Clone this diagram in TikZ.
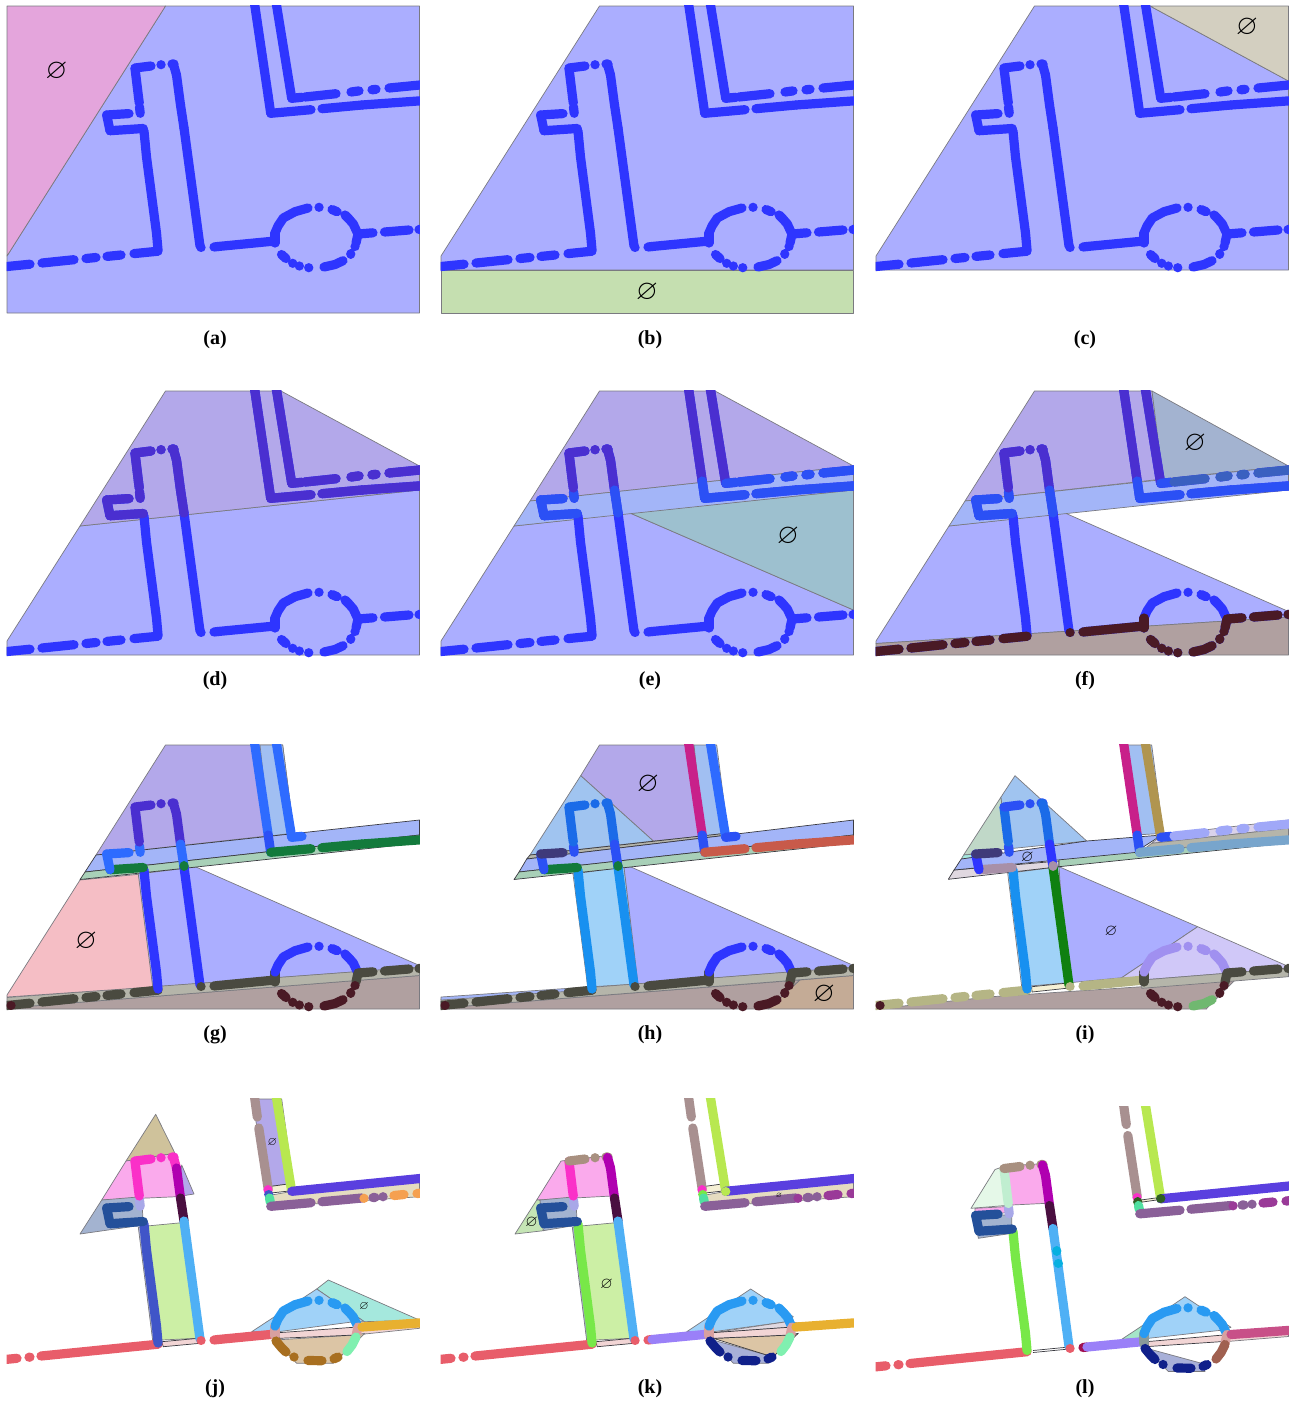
\documentclass[tikz,border=0pt]{standalone}
\usepackage{amsmath,amssymb}
\usepackage{fontspec}
\setmainfont{Liberation Serif}

% region fills
\definecolor{regblue}{HTML}{ABAEFF}
\definecolor{regpink}{HTML}{E4A5DC}
\definecolor{reggreen}{HTML}{C5DFB0}
\definecolor{regbeige}{HTML}{D3CFC0}
\definecolor{regpurple}{HTML}{B3A8EA}
\definecolor{regstrip}{HTML}{A3B5F8}
\definecolor{regteal}{HTML}{9DC0CF}
\definecolor{regslate}{HTML}{A3B3D0}
\definecolor{regbrown}{HTML}{B0A0A0}
\definecolor{regsalmon}{HTML}{F5BEC5}
\definecolor{regmoss}{HTML}{A8D0B8}
\definecolor{regstone}{HTML}{B5B5AA}
\definecolor{regsky}{HTML}{A0C4F0}
\definecolor{regice}{HTML}{A0D2F8}
\definecolor{regtan}{HTML}{C4AB96}
\definecolor{reglilac}{HTML}{D0C8F8}
\definecolor{regsage}{HTML}{C0D8C8}
\definecolor{regpale}{HTML}{E0D8E0}
\definecolor{regcream}{HTML}{E5DCC0}
\definecolor{regsand}{HTML}{CFC29B}
\definecolor{regorchid}{HTML}{FAAAEC}
\definecolor{regapple}{HTML}{CCEFA5}
\definecolor{regmint}{HTML}{A5E8DD}
\definecolor{regblush}{HTML}{F2D5D5}
\definecolor{regwheat}{HTML}{DCC5A5}
\definecolor{regdusk}{HTML}{A8B0D8}
\definecolor{regfern}{HTML}{C5E5B5}
\definecolor{regfoam}{HTML}{E5F8E8}
\definecolor{regjade}{HTML}{A5E5C8}
\definecolor{regivory}{HTML}{F5F0D5}
\definecolor{edgegray}{HTML}{7A7A80}
\definecolor{edgedark}{HTML}{3A3A40}
% dotted line colours
\definecolor{dotblue}{HTML}{2E35FF}
\definecolor{dotpurple}{HTML}{4A2FD0}
\definecolor{dotstrip}{HTML}{2B50F5}
\definecolor{dotsky}{HTML}{2E6BFF}
\definecolor{dotdull}{HTML}{3A60C0}
\definecolor{dotmaroon}{HTML}{4A1A25}
\definecolor{dotolive}{HTML}{4A4A40}
\definecolor{dotgreen}{HTML}{137A3C}
\definecolor{dotmagenta}{HTML}{C8208A}
\definecolor{dotbrick}{HTML}{C85A4A}
\definecolor{dotindigo}{HTML}{3F3A7A}
\definecolor{dotazure}{HTML}{1A6BE8}
\definecolor{dotcyan}{HTML}{1890F0}
\definecolor{dotkhaki}{HTML}{B5B585}
\definecolor{dotlilac}{HTML}{A090F0}
\definecolor{dotpale}{HTML}{A0A8F8}
\definecolor{dotsteel}{HTML}{78A5CC}
\definecolor{dotmauve}{HTML}{A890A8}
\definecolor{dotgold}{HTML}{B09550}
\definecolor{dotforest}{HTML}{0F8010}
\definecolor{dotleaf}{HTML}{70B870}
\definecolor{dotnavy}{HTML}{24509A}
\definecolor{dotred}{HTML}{E85D6A}
\definecolor{dotrose}{HTML}{D8A0A0}
\definecolor{dotmint}{HTML}{80F0B0}
\definecolor{dotamber}{HTML}{E8B030}
\definecolor{dotochre}{HTML}{A86F20}
\definecolor{dotroyal}{HTML}{4055C8}
\definecolor{dotbaby}{HTML}{4FB0F5}
\definecolor{dotplum}{HTML}{4A0F40}
\definecolor{dotfuchsia}{HTML}{FA30C8}
\definecolor{dotviolet}{HTML}{B000B0}
\definecolor{dotperi}{HTML}{A8A8E8}
\definecolor{dottaupe}{HTML}{A89090}
\definecolor{dotlime}{HTML}{B8E850}
\definecolor{dotsea}{HTML}{50E0A0}
\definecolor{dotgrape}{HTML}{8A6098}
\definecolor{dotorange}{HTML}{F5A050}
\definecolor{dotink}{HTML}{5A3FDF}
\definecolor{dotlawn}{HTML}{78E848}
\definecolor{dotiris}{HTML}{9A80F8}
\definecolor{dotdeep}{HTML}{10208A}
\definecolor{dotwine}{HTML}{9A3A98}
\definecolor{dotcrimson}{HTML}{A01050}
\definecolor{dotpine}{HTML}{2F5F20}
\definecolor{dotbrown}{HTML}{A06050}
\definecolor{dotberry}{HTML}{C85088}
\definecolor{dotaqua}{HTML}{08B0E0}
\definecolor{dotslate}{HTML}{8A9A9A}
\definecolor{dotmist}{HTML}{C0EED0}
\definecolor{dotrust}{HTML}{A89080}
\colorlet{dotring}{dotcyan!70!dotbaby}

% the line pieces, in the coordinates of panel (a)
\newcommand{\segZ}{(11,266.2)--(11.1,266.2)}
\newcommand{\segA}{(0,267.2)--(30,264.2) (42,263)--(74,259.7) (86,258.5)--(96,257.5) (107,256.4)--(121,255) (134,253.6)--(158,251.2)}
\newcommand{\segAf}{(0,267)--(17,265.3) (29,264.2)--(30,264.1) (41,263)--(158,251.2)}
\newcommand{\segB}{(158,250)--(156.5,233)--(146.5,157)--(144,131)}
\newcommand{\segC}{(143.3,128.5)--(110,130.7)}
\newcommand{\segD}{(110,130.7)--(106.7,115)}
\newcommand{\segE}{(106.7,115)--(129,113.6)}
\newcommand{\segF}{(139.5,107)--(140.2,113.3)}
\newcommand{\segGa}{(135,68.3)--(138.5,97)}
\newcommand{\segGb}{(138.5,97)--(139.3,103)}
\newcommand{\segH}{(135,68)--(151,66) (161,64.7)--(161.1,64.7) (172,64)--(174,64)}
\newcommand{\segIa}{(173.5,64.5)--(176.5,75)}
\newcommand{\segIb}{(176.5,75)--(180.5,105)}
\newcommand{\segIc}{(180.5,105)--(184,128)}
\newcommand{\segId}{(184,128)--(200,246)}
\newcommand{\segJz}{(201,247.8)--(201.1,247.8)}
\newcommand{\segJa}{(214,247)--(218,246.5)}
\newcommand{\segJb}{(218,246.5)--(272,241.3)}
\newcommand{\segKa}{(275,243)--(275,233)}
\newcommand{\segK}{(275,233)--(278,226)--(283.3,218)--(295,211.7)--(308,208) (319,207.3)--(319.1,207.3) (332,209.5)--(337,211.7) (345,215)--(349,219)--(353.3,224)--(357,232)}
\newcommand{\segKb}{(358,234)--(356,243)}
\newcommand{\segLa}{(355,246.7)--(355.1,246.7) (350.7,254)--(350.8,254)}
\newcommand{\segLb}{(343,260.7)--(335,264.5)--(324,267)}
\newcommand{\segLc}{(308.7,267.7)--(308.8,267.7) (299.3,266)--(299.4,266) (292.7,263.3)--(292.8,263.3) (286,258.5)--(281.5,254.5)}
\newcommand{\segLr}{(347,258.5)--(352,252)--(356,244)}
\newcommand{\segLs}{(276,248)--(281,254)--(286,259) (294,264)--(294.1,264) (308,267.5)--(322,267.7) (334,265.8)--(338,264)}
\newcommand{\segM}{(358.3,234)--(373,232.8) (384.5,232)--(409,230) (419,229.5)--(425,229)}
\newcommand{\segMf}{(362,234)--(425,229.5)}
\newcommand{\segNa}{(254,0)--(268.2,96)}
\newcommand{\segNg}{(254,0)--(257.3,24) (258.8,35)--(268.2,96)}
\newcommand{\segNb}{(268.2,96)--(270.7,113.3)}
\newcommand{\segNc}{(268,97)--(268.1,97)}
\newcommand{\segNd}{(268.7,101.5)--(268.8,101.5)}
\newcommand{\segNe}{(269.5,105)--(270.3,109)}
\newcommand{\segOa}{(270.7,113.3)--(311,109.7) (322,108.7)--(362,105)}
\newcommand{\segOb}{(362,105)--(425,100.5)}
\newcommand{\segOc}{(364,105.3)--(364.1,105.3) (394,102.5)--(404,101.5) (417,100.5)--(425,99.8)}
\newcommand{\segOd}{(373,104.6)--(375,104.4) (383,103.7)--(383.1,103.7)}
\newcommand{\segP}{(275.7,0)--(291.7,98.3)}
\newcommand{\segQa}{(291.7,98.3)--(302,97.3)}
\newcommand{\segQb}{(305,97)--(336,93.7) (351,92)--(359,90.9) (372,89.8)--(376,89.3) (389,88)--(425,84.5)}
\newcommand{\segQf}{(291.7,98.3)--(425,85)}

\newcommand{\dotlist}[1]{\foreach \s/\c in {#1} {\draw[dotline,draw=\c] \s;}}
\newcommand{\allblue}{\dotlist{\segA/dotblue,\segB/dotblue,\segC/dotblue,\segD/dotblue,\segE/dotblue,\segF/dotblue,\segGa/dotblue,\segGb/dotblue,\segH/dotblue,\segIa/dotblue,\segIb/dotblue,\segIc/dotblue,\segId/dotblue,\segJz/dotblue,\segJa/dotblue,\segJb/dotblue,\segKa/dotblue,\segK/dotblue,\segKb/dotblue,\segLa/dotblue,\segLb/dotblue,\segLc/dotblue,\segM/dotblue,\segNa/dotblue,\segNb/dotblue,\segOa/dotblue,\segOb/dotblue,\segP/dotblue,\segQa/dotblue,\segQb/dotblue}}
\newcommand{\panelclip}[1]{\clip (6.6,5.6) rectangle (419.9,#1);}

\begin{document}
\begin{tikzpicture}[x=1pt,y=-1pt,
    region/.style={draw=edgegray, line width=.7pt, line join=round},
    darkedge/.style={draw=edgedark, line width=.7pt, line join=round},
    dotline/.style={line width=9.2pt, line cap=round, line join=round},
    nullbig/.style={font=\fontsize{28}{28}\selectfont, inner sep=0pt},
    nullmid/.style={font=\fontsize{16}{16}\selectfont, inner sep=0pt},
    nullsmall/.style={font=\fontsize{12}{12}\selectfont, inner sep=0pt},
    sublabel/.style={font=\fontsize{20}{24}\selectfont\bfseries, inner sep=0pt}
]
\useasboundingbox (0,0) rectangle (1295,1403);

% (a)
\begin{scope}
\panelclip{313}
\draw[region,fill=regblue] (165.5,6) -- (419.5,6) -- (419.5,313) -- (7,313) -- (7,256) -- cycle;
\draw[region,fill=regpink] (7,6) -- (165.5,6) -- (7,256) -- cycle;
\allblue
\node[nullbig] (nulla) at (56.5,71) {$\varnothing$};
\end{scope}

% (b)
\begin{scope}[shift={(434,0)}]
\panelclip{313}
\draw[region,fill=regblue] (165.5,6) -- (419.5,6) -- (419.5,270) -- (7,270) -- (7,256) -- cycle;
\draw[region,fill=reggreen] (7,270) -- (419.5,270) -- (419.5,313) -- (7,313) -- cycle;
\allblue
\node[nullbig] (nullb) at (213,292) {$\varnothing$};
\end{scope}

% (c)
\begin{scope}[shift={(869,0)}]
\panelclip{313}
\draw[region,fill=regblue] (165.5,6) -- (281,6) -- (419.5,81) -- (419.5,270) -- (7,270) -- (7,256) -- cycle;
\draw[region,fill=regbeige] (281,6) -- (419.5,6) -- (419.5,81) -- cycle;
\allblue
\node[nullbig] (nullc) at (378,27.5) {$\varnothing$};
\end{scope}

% (d)
\begin{scope}[shift={(0,385)}]
\panelclip{272}
\draw[region,fill=regblue] (80,141) -- (419.5,105) -- (419.5,270) -- (7,270) -- (7,256) -- cycle;
\draw[region,fill=regpurple] (165.5,6) -- (281,6) -- (419.5,81) -- (419.5,105) -- (80,141) -- cycle;
\allblue
\dotlist{\segC/dotpurple,\segD/dotpurple,\segE/dotpurple,\segF/dotpurple,\segGa/dotpurple,\segGb/dotpurple,\segH/dotpurple,\segIa/dotpurple,\segIb/dotpurple,\segIc/dotpurple,\segNa/dotpurple,\segNb/dotpurple,\segOa/dotpurple,\segOb/dotpurple,\segP/dotpurple,\segQa/dotpurple,\segQb/dotpurple}
\end{scope}

% (e)
\begin{scope}[shift={(434,385)}]
\panelclip{272}
\draw[region,fill=regblue] (80,141) -- (196,128) -- (419.5,225) -- (419.5,270) -- (7,270) -- (7,256) -- cycle;
\draw[region,fill=regteal] (196,128) -- (419.5,105) -- (419.5,225) -- cycle;
\draw[region,fill=regpurple] (165.5,6) -- (281,6) -- (419.5,81) -- (96,116) -- cycle;
\draw[region,fill=regstrip] (96,116) -- (419.5,81) -- (419.5,105) -- (80,141) -- cycle;
\allblue
\dotlist{\segC/dotstrip,\segD/dotstrip,\segE/dotstrip,\segF/dotstrip,\segGa/dotpurple,\segGb/dotpurple,\segH/dotpurple,\segIa/dotpurple,\segIb/dotpurple,\segIc/dotstrip,\segNa/dotpurple,\segNb/dotstrip,\segOa/dotstrip,\segOb/dotstrip,\segP/dotpurple,\segQa/dotstrip,\segQb/dotstrip}
\node[nullbig] (nulle) at (354,151.5) {$\varnothing$};
\end{scope}

% (f)
\begin{scope}[shift={(869,385)}]
\panelclip{272}
\draw[region,fill=regblue] (80,141) -- (196,128) -- (419.5,226.5) -- (419.5,232) -- (7,258.5) -- (7,256) -- cycle;
\draw[region,fill=regbrown] (7,258.5) -- (419.5,232) -- (419.5,270) -- (7,270) -- cycle;
\draw[region,fill=regpurple] (165.5,6) -- (283,6) -- (294,94) -- (96,116) -- cycle;
\draw[region,fill=regslate] (283,6) -- (419.5,81) -- (294,94) -- cycle;
\draw[region,fill=regstrip] (96,116) -- (419.5,81) -- (419.5,105) -- (80,141) -- cycle;
\allblue
\dotlist{\segA/dotmaroon,\segC/dotstrip,\segD/dotstrip,\segE/dotstrip,\segF/dotstrip,\segGa/dotpurple,\segGb/dotpurple,\segH/dotpurple,\segIa/dotpurple,\segIb/dotpurple,\segIc/dotstrip,\segJz/dotmaroon,\segJa/dotmaroon,\segJb/dotmaroon,\segKa/dotmaroon,\segKb/dotmaroon,\segLa/dotmaroon,\segLb/dotmaroon,\segLc/dotmaroon,\segM/dotmaroon,\segNa/dotpurple,\segNb/dotstrip,\segOa/dotstrip,\segOb/dotstrip,\segP/dotpurple,\segQa/dotstrip,\segQb/dotdull}
\node[nullbig] (nullf) at (326,58.5) {$\varnothing$};
\end{scope}

% (g)
\begin{scope}[shift={(0,739)}]
\panelclip{272}
\draw[region,fill=regblue] (138,135) -- (196,128) -- (419.5,226.5) -- (419.5,228) -- (152.7,248) -- cycle;
\draw[region,fill=regbrown] (7,269) -- (419.5,236.5) -- (419.5,270) -- (7,270) -- cycle;
\draw[region,fill=regstone] (7,258.5) -- (419.5,228) -- (419.5,236.5) -- (7,269) -- cycle;
\draw[region,fill=regsalmon] (80,141) -- (138.3,135.3) -- (152.7,248) -- (7,258) -- (7,256) -- cycle;
\draw[region,fill=regpurple] (165.5,6) -- (282.7,6) -- (294,94) -- (96,116) -- cycle;
\draw[region,fill=regsky!70!regstrip] (260,6) -- (282.7,6) -- (294,94) -- (270,97) -- cycle;
\draw[darkedge,fill=regstrip] (96,116) -- (419.5,81) -- (419.5,96) -- (85,133) -- cycle;
\draw[darkedge,fill=regmoss] (85,133) -- (419.5,96) -- (419.5,104) -- (80,140.5) -- cycle;
\dotlist{\segA/dotolive,\segZ/dotmaroon,\segB/dotblue,\segC/dotgreen,\segD/dotsky,\segE/dotsky,\segF/dotsky,\segGa/dotpurple,\segGb/dotpurple,\segH/dotpurple,\segIa/dotpurple,\segIb/dotpurple,\segIc/dotsky,\segId/dotblue,\segJz/dotolive,\segJa/dotolive,\segJb/dotolive,\segKa/dotolive,\segK/dotblue,\segKb/dotolive,\segLa/dotmaroon,\segLb/dotmaroon,\segLc/dotmaroon,\segM/dotolive,\segNa/dotsky,\segNb/dotstrip,\segOa/dotgreen,\segOb/dotgreen,\segP/dotsky,\segQa/dotsky}
\draw[dotline,draw=dotgreen] (184,127) -- (184.1,127);
\node[nullbig] (nullg) at (86,202) {$\varnothing$};
\end{scope}

% (h)
\begin{scope}[shift={(434,739)}]
\panelclip{272}
\draw[region,fill=regice] (139,135) -- (190,128) -- (204,245) -- (153.7,248) -- cycle;
\draw[region,fill=regblue] (190,128) -- (197,128) -- (419.5,226.5) -- (419.5,228) -- (204,245) -- cycle;
\draw[region,fill=regbrown] (7,269) -- (366,241) -- (334.3,270) -- (7,270) -- cycle;
\draw[region,fill=regtan] (366,241) -- (419.5,236.5) -- (419.5,270) -- (334.3,270) -- cycle;
\draw[region,fill=regstone] (7,260) -- (419.5,228) -- (419.5,236.5) -- (7,269) -- cycle;
\draw[region,fill=regstrip] (7,258) -- (153.7,248) -- (153.7,251) -- (7,261) -- cycle;
\draw[region,fill=regpurple] (165.5,6) -- (260,6) -- (270,97) -- (219.3,102) -- (146.7,36.7) -- cycle;
\draw[region,fill=regsky] (146.7,36.7) -- (219.3,102) -- (96,116) -- cycle;
\draw[region,fill=regsky!70!regstrip] (260,6) -- (282.7,6) -- (294,94) -- (270,97) -- cycle;
\draw[darkedge,fill=regstone] (96,116) -- (294,94) -- (294,96) -- (92.7,120) -- cycle;
\draw[darkedge,fill=regstrip] (92.7,120) -- (294,96) -- (419.5,81) -- (419.5,96) -- (85,133) -- cycle;
\draw[darkedge,fill=regmoss] (85,133) -- (419.5,96) -- (419.5,104) -- (80,140.5) -- cycle;
\dotlist{\segA/dotolive,\segZ/dotmaroon,\segB/dotcyan,\segC/dotgreen,\segD/dotstrip,\segE/dotindigo,\segF/dotstrip,\segGa/dotazure,\segGb/dotazure,\segH/dotazure,\segIa/dotazure,\segIb/dotazure,\segIc/dotstrip,\segId/dotcyan,\segJz/dotolive,\segJa/dotolive,\segJb/dotolive,\segKa/dotolive,\segK/dotblue,\segKb/dotolive,\segLa/dotmaroon,\segLb/dotmaroon,\segLc/dotmaroon,\segM/dotolive,\segNa/dotmagenta,\segNb/dotstrip,\segOa/dotbrick,\segOb/dotbrick,\segP/dotsky,\segQa/dotstrip}
\draw[dotline,draw=dotgreen] (184,127) -- (184.1,127);
\node[nullbig] (nullh) at (214,45.5) {$\varnothing$};
\node[nullbig] (nullhb) at (390,255.5) {$\varnothing$};
\end{scope}

% (i)
\begin{scope}[shift={(869,739)}]
\panelclip{272}
\draw[region,fill=regice] (138.7,134.3) -- (190,127.7) -- (196,244) -- (152.7,247.7) -- cycle;
\draw[region,fill=regblue] (190,127.7) -- (328.7,187.7) -- (252.7,238.7) -- (197.7,244) -- cycle;
\draw[region,fill=reglilac] (328.7,187.7) -- (417.7,226.7) -- (419.5,229.3) -- (272.7,241) -- (252.7,238.7) -- cycle;
\draw[region,fill=regbrown] (6,270) -- (122.7,257.7) -- (272.7,247.7) -- (366,241) -- (337.7,269.3) -- (337.7,270) -- cycle;
\draw[region,fill=regstone] (272.7,241) -- (419.5,229.3) -- (419.5,237.7) -- (272.7,249.3) -- cycle;
\draw[darkedge,fill=regivory] (162.7,247.7) -- (199,244) -- (200,249) -- (163,253) -- cycle;
\draw[region,fill=regsage] (132,58) -- (137.7,110) -- (94.6,116) -- cycle;
\draw[region,fill=regsky] (146,36.7) -- (217.7,102) -- (137.7,110) -- (132,58) -- cycle;
\draw[region,fill=regsky!70!regstrip] (251.3,6) -- (282.7,6) -- (294.3,94.3) -- (266.7,96) -- cycle;
\draw[darkedge,fill=regpale] (79.3,140.3) -- (85,131) -- (190,122) -- (190,127.7) -- cycle;
\draw[darkedge,fill=regmoss] (190,120) -- (419.5,97.7) -- (419.5,104) -- (190,127.7) -- cycle;
\draw[region,fill=regmint] (94.6,116) -- (106,115) -- (106,118.5) -- (92.3,120) -- cycle;
\draw[darkedge,fill=regstrip] (92.3,120) -- (217.7,102) -- (292.7,96) -- (272.7,109) -- (271,113) -- (85,131) -- cycle;
\draw[region,fill=regpale!60!reglilac] (292.7,96) -- (419.5,81) -- (419.5,89.3) -- (282.7,104.3) -- cycle;
\draw[region,fill=regstone] (282.7,104.3) -- (419.5,89.3) -- (419.5,97.7) -- (271,113) -- cycle;
\dotlist{\segA/dotkhaki,\segZ/dotmaroon,\segB/dotcyan,\segC/dotmauve,\segD/dotblue,\segE/dotindigo,\segF/dotstrip,\segGa/dotazure,\segGb/dotazure,\segH/dotstrip,\segIa/dotazure,\segIb/dotazure,\segIc/dotblue,\segId/dotforest,\segJz/dotkhaki,\segJa/dotkhaki,\segJb/dotkhaki,\segKa/dotolive,\segK/dotlilac,\segKb/dotolive,\segLa/dotmaroon,\segLb/dotleaf,\segLc/dotmaroon,\segM/dotolive,\segNa/dotmagenta,\segNb/dotstrip,\segOa/dotsteel,\segOb/dotsteel,\segP/dotgold,\segQa/dotstrip,\segQb/dotpale}
\draw[dotline,draw=dotmauve] (184,127) -- (184.1,127);
\node[nullmid] (nulli) at (158.3,118) {$\varnothing$};
\node[nullmid] (nullib) at (242,192) {$\varnothing$};
\end{scope}

% (j)
\begin{scope}[shift={(0,1093)}]
\panelclip{272}
\draw[region,fill=regsand] (155.7,21.3) -- (175,60.3) -- (126,68) -- cycle;
\draw[region,fill=regpurple] (181.7,72) -- (194,101) -- (176.7,103.7) -- cycle;
\draw[region,fill=regorchid] (126,68) -- (175,60.3) -- (176.7,103.7) -- (101.7,107) -- cycle;
\draw[region,fill=regslate] (101.7,107) -- (141.7,103.7) -- (143.3,132) -- (80,141) -- cycle;
\draw[region,fill=regdusk] (138.3,134.3) -- (146.7,133) -- (161.7,247) -- (152.7,247.7) -- cycle;
\draw[region,fill=regapple] (146.7,133) -- (181.7,129.7) -- (196.7,245.3) -- (161.7,247) -- cycle;
\draw[darkedge,fill=regblush] (161.7,248.7) -- (198.3,245.3) -- (200,250.3) -- (163.3,253.7) -- cycle;
\draw[region,fill=regpurple] (251.7,6) -- (281.7,6) -- (293.3,90.3) -- (268.3,93.7) -- cycle;
\draw[darkedge,fill=regivory] (268.3,93.7) -- (288,91) -- (289,98) -- (271,100) -- cycle;
\draw[region,fill=regcream] (271.7,102) -- (290,98.7) -- (419.5,85) -- (419.5,103.7) -- (273.3,113.7) -- cycle;
\draw[region,fill=regmint] (328.3,187) -- (419.3,227) -- (366.7,230.3) -- (316.7,196) -- cycle;
\draw[region,fill=regice] (251.7,238.7) -- (316.7,196) -- (366.7,230.3) -- (354,228.7) -- (278.3,238.7) -- cycle;
\draw[region,fill=regblush] (354,229) -- (419.5,227) -- (419.5,235.3) -- (355,242) -- cycle;
\draw[region,fill=regwheat] (275,247) -- (355,242) -- (365,240.3) -- (333.3,270.3) -- (296.7,270.3) -- cycle;
\draw[darkedge,fill=regblush] (278.3,239.7) -- (353.3,234.3) -- (355,242) -- (279.3,245.3) -- cycle;
\dotlist{\segAf/dotred,\segB/dotroyal,\segC/dotnavy,\segD/dotnavy,\segE/dotnavy,\segF/dotperi,\segGa/dotfuchsia,\segGb/dotfuchsia,\segH/dotfuchsia,\segIa/dotfuchsia,\segIb/dotviolet,\segIc/dotplum,\segId/dotbaby,\segJz/dotred,\segJa/dotred,\segJb/dotred,\segKa/dotrose,\segK/dotring,\segKb/dotrose,\segLr/dotmint,\segLs/dotochre,\segMf/dotamber,\segNg/dottaupe,\segNc/dotfuchsia,\segNd/dotroyal,\segNe/dotsea,\segOa/dotgrape,\segOc/dotorange,\segOd/dotgrape,\segP/dotlime,\segQf/dotink}
\node[nullsmall] (nullj) at (272.3,49) {$\varnothing$};
\node[nullsmall] (nulljb) at (364,213.3) {$\varnothing$};
\end{scope}

% (k)
\begin{scope}[shift={(434,1093)}]
\panelclip{272}
\draw[region,fill=regorchid] (127,68) -- (177.7,62) -- (177.7,103) -- (102.7,107) -- cycle;
\draw[region,fill=regfern] (102.7,107) -- (106,107) -- (109.3,137.7) -- (81,141) -- cycle;
\draw[region,fill=regslate] (106,107) -- (141.7,103.7) -- (143.3,132) -- (109.3,137.7) -- cycle;
\draw[region,fill=regdusk] (138.3,134.3) -- (146.7,133) -- (161.7,247) -- (152.7,247.7) -- cycle;
\draw[region,fill=regapple] (146.7,133) -- (181.7,129.7) -- (196.7,245.3) -- (161.7,247) -- cycle;
\draw[darkedge,fill=regblush] (161.7,248.7) -- (198.3,245.3) -- (200,250.3) -- (163.3,253.7) -- cycle;
\draw[darkedge,fill=regivory] (268.3,93.7) -- (288,91) -- (289,98) -- (271,100) -- cycle;
\draw[region,fill=regcream] (271.7,102) -- (290,98.7) -- (419.5,85) -- (419.5,103.7) -- (273.3,113.7) -- cycle;
\draw[region,fill=regice] (252.7,238.7) -- (316.7,196) -- (359.3,223.7) -- (352.7,228.7) -- (279.3,238.7) -- cycle;
\draw[region,fill=regpale] (279.3,239.7) -- (352.7,228.7) -- (367.7,230.3) -- (354.3,234.3) -- cycle;
\draw[region,fill=regdusk] (279,247) -- (332.7,262) -- (341,262) -- (334.3,270.3) -- (299.3,270.3) -- cycle;
\draw[darkedge,fill=regwheat] (279.3,245.3) -- (356,242) -- (364.3,240.3) -- (341,262) -- (332.7,262) -- cycle;
\draw[darkedge,fill=regblush] (278.3,239.7) -- (354.3,234.3) -- (356,242) -- (279.3,245.3) -- cycle;
\dotlist{\segAf/dotred,\segB/dotlawn,\segC/dotnavy,\segD/dotnavy,\segE/dotnavy,\segF/dotperi,\segGa/dotfuchsia,\segGb/dotfuchsia,\segH/dotrust,\segIa/dotviolet,\segIb/dotviolet,\segIc/dotplum,\segId/dotbaby,\segJz/dotred,\segJa/dotred,\segJb/dotiris,\segKa/dotrose,\segK/dotring,\segKb/dotrose,\segLr/dotmint,\segLs/dotdeep,\segMf/dotamber,\segNg/dottaupe,\segNc/dotfuchsia,\segNd/dotlawn,\segNe/dotsea,\segOa/dotgrape,\segOc/dotwine,\segOd/dotgrape,\segP/dotlime,\segQf/dotink}
\draw[dotline,draw=dotlime] (291.7,98.3) -- (291.8,98.3);
\node[nullmid] (nullk) at (97.7,129.5) {$\varnothing$};
\node[nullmid] (nullkb) at (172.7,191.3) {$\varnothing$};
\node[font=\fontsize{7}{7}\selectfont, inner sep=0pt] (nullkc) at (345,103) {$\varnothing$};
\end{scope}

% (l)
\begin{scope}[shift={(869,1100.5)}]
\panelclip{272}
\draw[region,fill=regorchid] (136,65.5) -- (176,63) -- (177.7,102.8) -- (142.7,104.5) -- cycle;
\draw[region,fill=regfoam] (126,69) -- (136,65.5) -- (142.7,104.5) -- (102,107.8) -- cycle;
\draw[region,fill=regorchid] (106,107.8) -- (139.3,106) -- (139.8,112) -- (106,114.5) -- cycle;
\draw[region,fill=regslate] (106,114.5) -- (142.7,114.5) -- (142.7,132.8) -- (109.3,137.8) -- cycle;
\draw[darkedge,fill=regivory] (268.3,100) -- (290,97) -- (291,99) -- (270,102) -- cycle;
\draw[region,fill=regjade] (252.7,238.8) -- (274.3,224.5) -- (274.3,237.8) -- cycle;
\draw[region,fill=regice] (274.3,224.5) -- (316,196.2) -- (362,226.8) -- (354.3,229.5) -- (279.3,237.8) -- (274.3,237.8) -- cycle;
\draw[darkedge,fill=regblush] (279.3,241) -- (354.3,234.5) -- (354.3,241) -- (279.3,246) -- cycle;
\draw[region,fill=regdusk] (277.7,247.8) -- (332.7,262.8) -- (336,271) -- (299.3,271) -- cycle;
\draw[darkedge] (164,250) -- (200,246.5) (164,252) -- (200,248.5);
\draw[region,fill=regblush] (358,238) -- (419.5,232) -- (419.5,236) -- (358,241) -- cycle;
\dotlist{\segAf/dotred,\segB/dotlawn,\segC/dotnavy,\segD/dotnavy,\segE/dotnavy,\segF/dotperi,\segGa/dotmist,\segGb/dotmist,\segH/dotrust,\segIa/dotviolet,\segIb/dotviolet,\segIc/dotplum,\segId/dotbaby,\segJz/dotred,\segJa/dotcrimson,\segJb/dotiris,\segKa/dotslate,\segK/dotring,\segKb/dotrose,\segLr/dotbrown,\segLs/dotdeep,\segMf/dotberry,\segNg/dottaupe,\segNc/dotfuchsia,\segNd/dotpine,\segNe/dotsea,\segOa/dotgrape,\segOc/dotwine,\segOd/dotgrape,\segP/dotlime,\segQf/dotink}
\draw[dotline,draw=dotpine] (291.7,98.3) -- (291.8,98.3);
\draw[dotline,draw=dotaqua] (187.7,150.5) -- (187.8,150.5) (189.3,162.8) -- (189.4,162.8);
\end{scope}

% captions
\foreach \nm/\lx/\ly in {a/215/340,b/650/340,c/1085/340,d/215/681,e/650/681,f/1085/681,g/215/1035,h/650/1035,i/1085/1035,j/215/1389,k/650/1389,l/1085/1389}
    \node[sublabel] (lab\nm) at (\lx,\ly) {(\nm)};

\end{tikzpicture}
\end{document}
